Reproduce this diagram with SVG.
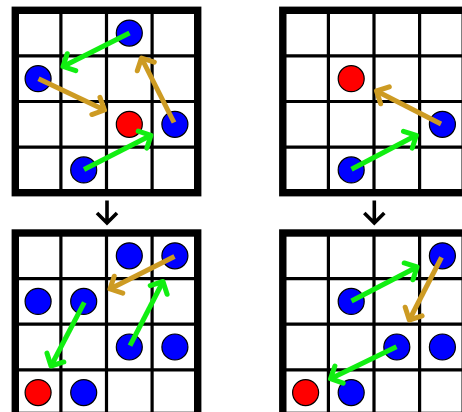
<svg xmlns="http://www.w3.org/2000/svg" width="462" height="412" viewBox="0 0 462 412">
<style>
.cellbg{fill:#fff}
.inner{stroke:#000;stroke-width:3.2;fill:none}
.outer{stroke:#000;stroke-width:7.4;fill:none}
.b{fill:#0000ff;stroke:#000;stroke-width:1.2}
.r{fill:#ff0000;stroke:#000;stroke-width:1.2}
.g{stroke:#11ee11;stroke-width:5;fill:none;marker-end:url(#hg)}
.o{stroke:#cd9b23;stroke-width:5;fill:none;marker-end:url(#ho)}
.down{stroke:#000;stroke-width:3.6;fill:none}
</style>
<defs>
<g id="grid">
<rect class="cellbg" x="0" y="0" width="182.4" height="182.4"/>
<path class="inner" d="M45.6,0V182.4M91.2,0V182.4M136.8,0V182.4M0,45.6H182.4M0,91.2H182.4M0,136.8H182.4"/>
<rect class="outer" x="0" y="0" width="182.4" height="182.4"/>
</g>
<marker id="hg" markerUnits="userSpaceOnUse" viewBox="-16 -16 32 32" markerWidth="32" markerHeight="32" refX="0" refY="0" orient="auto" overflow="visible">
<path d="M-9.5,-9.5L0,0L-9.5,9.5" fill="none" stroke="#11ee11" stroke-width="5" stroke-linejoin="round" stroke-linecap="round"/>
</marker>
<marker id="ho" markerUnits="userSpaceOnUse" viewBox="-16 -16 32 32" markerWidth="32" markerHeight="32" refX="0" refY="0" orient="auto" overflow="visible">
<path d="M-9.5,-9.5L0,0L-9.5,9.5" fill="none" stroke="#cd9b23" stroke-width="5" stroke-linejoin="round" stroke-linecap="round"/>
</marker>
</defs>

<g id="boards">
<use href="#grid" x="15.3" y="10.3"/>
<use href="#grid" x="282.8" y="10.3"/>
<use href="#grid" x="15.3" y="233"/>
<use href="#grid" x="282.8" y="233"/>
</g>

<!-- top-left board -->
<g id="tl-b1"><circle class="b" cx="129.3" cy="33.1" r="13"/></g>
<g id="tl-b2"><circle class="b" cx="38.1" cy="78.7" r="13"/></g>
<g id="tl-r"><circle class="r" cx="129.3" cy="124.3" r="13"/></g>
<g id="tl-b3"><circle class="b" cx="174.9" cy="124.3" r="13"/></g>
<g id="tl-b4"><circle class="b" cx="83.7" cy="169.9" r="13"/></g>

<!-- top-right board -->
<g id="tr-r"><circle class="r" cx="351.2" cy="78.7" r="13"/></g>
<g id="tr-b1"><circle class="b" cx="442.4" cy="124.3" r="13"/></g>
<g id="tr-b2"><circle class="b" cx="351.2" cy="169.9" r="13"/></g>

<!-- bottom-left board -->
<g id="bl-b1"><circle class="b" cx="129.3" cy="255.8" r="13"/></g>
<g id="bl-b2"><circle class="b" cx="174.9" cy="255.8" r="13"/></g>
<g id="bl-b3"><circle class="b" cx="38.1" cy="301.4" r="13"/></g>
<g id="bl-b4"><circle class="b" cx="83.7" cy="301.4" r="13"/></g>
<g id="bl-b5"><circle class="b" cx="129.3" cy="347" r="13"/></g>
<g id="bl-b6"><circle class="b" cx="174.9" cy="347" r="13"/></g>
<g id="bl-r"><circle class="r" cx="38.1" cy="392.6" r="13"/></g>
<g id="bl-b7"><circle class="b" cx="83.7" cy="392.6" r="13"/></g>

<!-- bottom-right board -->
<g id="br-b1"><circle class="b" cx="442.4" cy="255.8" r="13"/></g>
<g id="br-b2"><circle class="b" cx="351.2" cy="301.4" r="13"/></g>
<g id="br-b3"><circle class="b" cx="396.8" cy="347" r="13"/></g>
<g id="br-b4"><circle class="b" cx="442.4" cy="347" r="13"/></g>
<g id="br-r"><circle class="r" cx="305.6" cy="392.6" r="13"/></g>
<g id="br-b5"><circle class="b" cx="351.2" cy="392.6" r="13"/></g>

<g id="connectors">
<!-- top-left -->
<line class="g" x1="129.5" y1="33" x2="63" y2="66.5"/>
<line class="o" x1="38.5" y1="78.8" x2="104.5" y2="110"/>
<line class="o" x1="174" y1="122.5" x2="141.5" y2="58"/>
<line class="g" x1="84" y1="169.5" x2="151" y2="135.3"/>
<!-- top-right -->
<line class="o" x1="441" y1="124" x2="376.5" y2="91"/>
<line class="g" x1="351.5" y1="169.3" x2="416.3" y2="135.3"/>
<!-- bottom-left -->
<line class="o" x1="174.5" y1="256.5" x2="110" y2="289"/>
<line class="g" x1="84.3" y1="302.3" x2="51" y2="366"/>
<line class="g" x1="130" y1="345.7" x2="163" y2="281.5"/>
<!-- bottom-right -->
<line class="g" x1="351.5" y1="301" x2="417" y2="267"/>
<line class="o" x1="441.5" y1="257.3" x2="409.3" y2="320"/>
<line class="g" x1="396.5" y1="346.7" x2="330.5" y2="378.7"/>
<!-- down arrows -->
<path class="down" d="M107,200.5V222M97,213L107,223L117,213"/>
<path class="down" d="M374.3,200.5V222M364.3,213L374.3,223L384.3,213"/>
</g>
</svg>
